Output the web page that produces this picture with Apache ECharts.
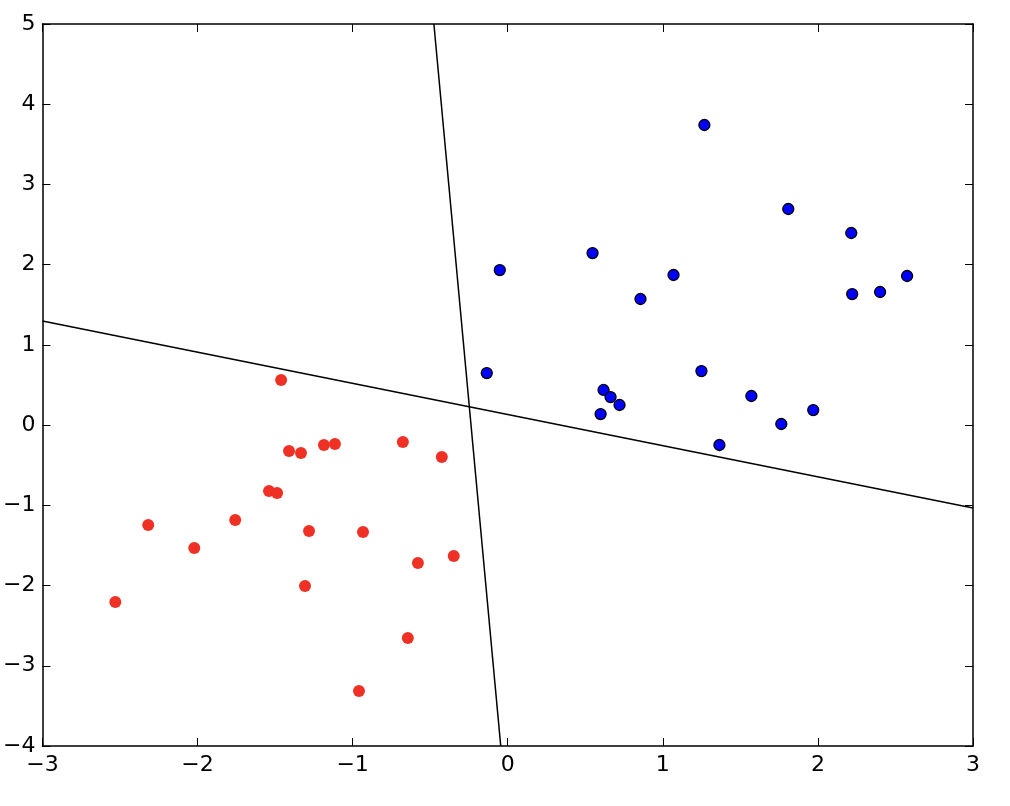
<!DOCTYPE html>
<html><head><meta charset="utf-8">
<script src="https://cdn.jsdelivr.net/npm/echarts@6/dist/echarts.min.js"></script>
<style>html,body{margin:0;padding:0;background:#fff;}#c{width:1010px;height:806px;}</style>
</head><body><div id="c"></div>
<script>
const xTicks = [-3, -2, -1, 0, 1, 2, 3];
const yTicks = [-4, -3, -2, -1, 0, 1, 2, 3, 4, 5];
const redPoints = [
  [-1.461, 0.562], [-1.410, -0.323], [-1.333, -0.348], [-1.185, -0.248], [-1.114, -0.236],
  [-0.676, -0.211], [-0.425, -0.398], [-1.539, -0.822], [-1.487, -0.846], [-2.318, -1.245],
  [-1.757, -1.183], [-2.021, -1.532], [-1.281, -1.320], [-0.933, -1.333], [-0.579, -1.719],
  [-0.348, -1.632], [-1.307, -2.006], [-2.530, -2.205], [-0.644, -2.654], [-0.959, -3.315]
];
const bluePoints = [
  [1.268, 3.741], [1.809, 2.694], [2.215, 2.395], [0.547, 2.145], [-0.051, 1.933],
  [1.069, 1.871], [2.575, 1.859], [2.401, 1.659], [2.221, 1.634], [0.856, 1.572],
  [-0.135, 0.649], [1.249, 0.674], [0.618, 0.438], [0.663, 0.350], [0.721, 0.251],
  [0.599, 0.138], [1.571, 0.363], [1.970, 0.188], [1.764, 0.014], [1.365, -0.248]
];
const lineA = [[-3, 1.298], [3, -1.033]];
const lineB = [[-0.476, 5], [-0.045, -4]];

const fmt = v => String(v).replace('-', '\u2212');
const font = 'DejaVu Sans';
const axisCommon = {
  axisLine: {show: true, onZero: false, lineStyle: {color: '#000', width: 1.5}},
  axisTick: {show: true, inside: true, length: 8, lineStyle: {color: '#000', width: 1}},
  splitLine: {show: false}
};
const chart = echarts.init(document.getElementById('c'));
chart.setOption({
  animation: false,
  backgroundColor: '#fff',
  grid: {left: 40, top: 24, right: 37, bottom: 60, containLabel: false},
  xAxis: [
    Object.assign({type: 'value', min: -3, max: 3, interval: 1, position: 'bottom',
      axisLabel: {color: '#000', fontSize: 22, fontFamily: font, margin: 8, formatter: fmt, showMinLabel: true, showMaxLabel: true}}, axisCommon),
    Object.assign({type: 'value', min: -3, max: 3, interval: 1, position: 'top',
      axisLabel: {show: false}}, axisCommon)
  ],
  yAxis: [
    Object.assign({type: 'value', min: -4, max: 5, interval: 1, position: 'left',
      axisLabel: {color: '#000', fontSize: 22, fontFamily: font, margin: 7, formatter: fmt, showMinLabel: true, showMaxLabel: true}}, axisCommon),
    Object.assign({type: 'value', min: -4, max: 5, interval: 1, position: 'right',
      axisLabel: {show: false}}, axisCommon)
  ],
  series: [
    {type: 'line', data: lineA, symbol: 'none', lineStyle: {color: '#000', width: 1.5}, clip: true, z: 2},
    {type: 'line', data: lineB, symbol: 'none', lineStyle: {color: '#000', width: 1.5}, clip: true, z: 2},
    {type: 'scatter', data: redPoints, symbolSize: 12, itemStyle: {color: '#ee3124', borderWidth: 0, opacity: 1}, z: 3},
    {type: 'scatter', data: bluePoints, symbolSize: 11, itemStyle: {color: '#0000ff', borderColor: '#000', borderWidth: 1.3, opacity: 1}, z: 3}
  ]
});
</script></body></html>
